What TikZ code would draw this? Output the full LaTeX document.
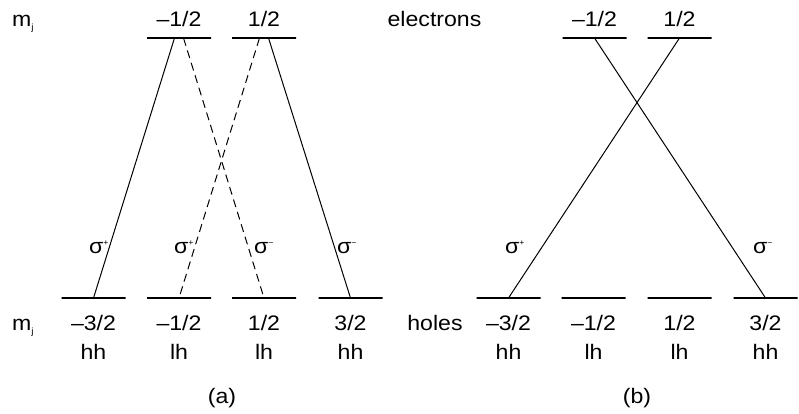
\documentclass[tikz,border=0pt]{standalone}
\usepackage{fontspec}
\setmainfont{Liberation Sans}[FakeStretch=1.1]
\usepackage{tikz}
\usetikzlibrary{positioning}
\newcommand{\pol}[1]{σ\raisebox{8pt}{\fontsize{8}{8}\selectfont #1}}
\newcommand{\mj}{m\raisebox{-4pt}{\fontsize{9}{9}\selectfont j}}

\begin{document}
\begin{tikzpicture}[x=1pt,y=-1pt,
  font=\fontsize{21}{25}\selectfont,
  lvl/.style={draw,line width=1.2pt,minimum width=64pt,minimum height=0pt,inner sep=0pt},
  lbl/.style={inner sep=0pt,anchor=base},
  trans/.style={line width=1pt},
  forbid/.style={trans,dash pattern=on 8pt off 5pt}]
  \useasboundingbox (0,0) rectangle (799,414);
  % (a)
  \node[lvl] (ae1) at (179,38) {};
  \node[lvl] (ae2) at (264,38) {};
  \node[lvl] (ah1) at (93.5,298) {};
  \node[lvl] (ah2) at (179,298) {};
  \node[lvl] (ah3) at (264,298) {};
  \node[lvl] (ah4) at (350.5,298) {};
  \node[lbl,above=11pt of ae1.center,anchor=base] (ae1t) {–1/2};
  \node[lbl,above=11pt of ae2.center,anchor=base] (ae2t) {1/2};
  \foreach \n/\m/\t in {ah1/{–3/2}/hh,ah2/{–1/2}/lh,ah3/{1/2}/lh,ah4/{3/2}/hh}{
    \node[lbl,below=32pt of \n.center,anchor=base] (\n m) {\m};
    \node[lbl,below=61pt of \n.center,anchor=base] (\n t) {\t};
  }
  \node[lbl,anchor=base west] (mjt) at (12,27) {\mj};
  \node[lbl,anchor=base west] (mjb) at (12,330) {\mj};
  \draw[trans] ([xshift=-4.5pt]ae1.center) -- (ah1.center);
  \draw[forbid] ([xshift=4.5pt]ae1.center) -- (ah3.center);
  \draw[forbid] ([xshift=-4.5pt]ae2.center) -- (ah2.center);
  \draw[trans] ([xshift=4.5pt]ae2.center) -- (ah4.center);
  \node[lbl,anchor=base west] (pa1) at (89,253) {\pol{+}};
  \node[lbl,anchor=base west] (pa2) at (174,253) {\pol{+}};
  \node[lbl,anchor=base west] (pa3) at (254,253) {\pol{−}};
  \node[lbl,anchor=base west] (pa4) at (337,253) {\pol{−}};
  \node[lbl] (capa) at (222,403) {(a)};
  % (b)
  \node[lvl] (be1) at (594.5,38) {};
  \node[lvl] (be2) at (679.5,38) {};
  \node[lvl] (bh1) at (508.5,298) {};
  \node[lvl] (bh2) at (593.5,298) {};
  \node[lvl] (bh3) at (679.5,298) {};
  \node[lvl] (bh4) at (765.5,298) {};
  \node[lbl,above=11pt of be1.center,anchor=base] (be1t) {–1/2};
  \node[lbl,above=11pt of be2.center,anchor=base] (be2t) {1/2};
  \foreach \n/\m/\t in {bh1/{–3/2}/hh,bh2/{–1/2}/lh,bh3/{1/2}/lh,bh4/{3/2}/hh}{
    \node[lbl,below=32pt of \n.center,anchor=base] (\n m) {\m};
    \node[lbl,below=61pt of \n.center,anchor=base] (\n t) {\t};
  }
  \node[lbl] (elec) at (434.5,27) {electrons};
  \node[lbl] (hole) at (435,330) {holes};
  \draw[trans] (be1.center) -- (bh4.center);
  \draw[trans] (be2.center) -- (bh1.center);
  \node[lbl,anchor=base west] (pb1) at (505,253) {\pol{+}};
  \node[lbl,anchor=base west] (pb2) at (753,253) {\pol{−}};
  \node[lbl] (capb) at (637,403) {(b)};
\end{tikzpicture}
\end{document}
